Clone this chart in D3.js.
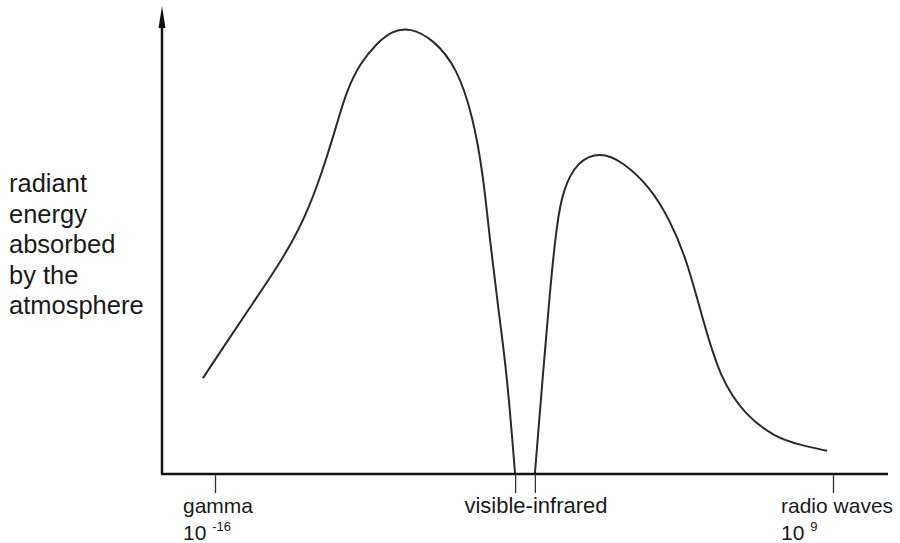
<!DOCTYPE html>
<html>
<head>
<meta charset="utf-8">
<script src="https://cdn.jsdelivr.net/npm/d3@7"></script>
<style>
  body { margin: 0; background: #fff; }
  svg text { font-family: "Liberation Sans", Arial, Helvetica, sans-serif; fill: #1a1a1a; }
</style>
</head>
<body>
<svg id="chart" width="900" height="543"></svg>
<script>
// wavelength exponent (log10 m, arbitrary placement) vs absorbed energy (relative, 0-100)
var leftX = [-16.49, -15.68, -14.46, -13.09, -12.16, -11.47, -11.06, -10.66, -10.13, -9.45, -8.84, -8.11, -7.18, -6.21, -5.56, -5.16, -4.88, -4.55, -4.19, -3.86];
var leftY = [21.1, 27.8, 37.7, 48.7, 58.8, 69.8, 77.3, 84.6, 90.5, 94.9, 97.6, 98.3, 95.8, 89.6, 78.6, 66.3, 51.5, 36.8, 22.2, 0];

var rightX = [-3.06, -2.73, -2.45, -2.17, -1.92, -1.36, -0.43, 0.50, 1.60, 2.41, 3.09, 3.74, 4.43, 5.44, 6.65, 7.67, 8.76];
var rightY = [0, 22.2, 40.5, 55.3, 62.6, 68.8, 71.0, 68.8, 63.2, 55.9, 47.1, 33.9, 21.1, 13.0, 8.1, 6.4, 5.1];

// tick positions and labels
var tickVals = [-16, -3.86, -3.06, 9];
var labelVals = [-16, -3.46, 9];
var labelNames = ["gamma", "visible-infrared", "radio waves"];
var labelExp = ["-16", null, "9"];
var yLabel = ["radiant", "energy", "absorbed", "by the", "atmosphere"];

var chart = {
	svg : null,
	x : null,
	y : null,
	layout : {
		axisLeft : 162,
		axisBottom : 474,
		axisRight : 888,
		axisTop : 6
	},

	init : function(id) {
		var that = this;
		that.svg = d3.select(id);
		that.x = d3.scaleLinear().domain([-16, 9]).range([215, 833]);
		that.y = d3.scaleLinear().domain([0, 100]).range([474, 20]);
	},

	draw : function() {
		var that = this;
		that.drawCurve(leftX, leftY);
		that.drawCurve(rightX, rightY);
		that.drawAxes();
		that.drawLabels();
	},

	drawCurve : function(xs, ys) {
		var that = this;
		var pts = xs.map(function(d, i) { return [d, ys[i]]; });
		var line = d3.line()
			.x(function(d) { return that.x(d[0]); })
			.y(function(d) { return that.y(d[1]); })
			.curve(d3.curveBasis);
		that.svg.append("path").attr("d", line(pts))
			.attr("fill", "none").attr("stroke", "#2a2a2a").attr("stroke-width", 2);
	},

	drawAxes : function() {
		var that = this;
		var l = that.layout;
		// y axis with arrow
		that.svg.append("line").attr("x1", l.axisLeft).attr("y1", l.axisBottom)
			.attr("x2", l.axisLeft).attr("y2", l.axisTop + 14)
			.attr("stroke", "#111").attr("stroke-width", 2.5);
		that.svg.append("path")
			.attr("d", "M" + (l.axisLeft - 3.5) + "," + (l.axisTop + 22) + "L" + l.axisLeft + "," + l.axisTop + "L" + (l.axisLeft + 3.5) + "," + (l.axisTop + 22) + "Z")
			.attr("fill", "#111");
		// x axis
		that.svg.append("line").attr("x1", l.axisLeft - 1).attr("y1", l.axisBottom)
			.attr("x2", l.axisRight).attr("y2", l.axisBottom)
			.attr("stroke", "#111").attr("stroke-width", 2.5);

		var axis = d3.axisBottom(that.x).tickValues(tickVals).tickSize(19).tickFormat("");
		var g = that.svg.append("g").attr("transform", "translate(0," + l.axisBottom + ")").call(axis);
		g.select(".domain").remove();
		g.selectAll(".tick line").attr("stroke", "#333").attr("stroke-width", 1.3);
	},

	drawLabels : function() {
		var that = this;
		labelVals.forEach(function(v, i) {
			var px = that.x(v);
			var t = that.svg.append("text").attr("y", 513).attr("font-size", i == 1 ? 22 : 21).text(labelNames[i]);
			if (i == 0) t.attr("x", 183);
			else if (i == 1) t.attr("x", px + 11).attr("text-anchor", "middle");
			else t.attr("x", 781);
			if (labelExp[i]) {
				var e = that.svg.append("text").attr("x", i == 0 ? 183 : 781).attr("y", 540).attr("font-size", 21);
				e.append("tspan").text("10 ");
				e.append("tspan").attr("font-size", 13).attr("dy", -9).text(labelExp[i]);
			}
		});
		yLabel.forEach(function(s, i) {
			that.svg.append("text").attr("x", 9).attr("y", 192 + i * 30.5).attr("font-size", 25.5).text(s);
		});
	}
};

chart.init("#chart");
chart.draw();
</script>
</body>
</html>
